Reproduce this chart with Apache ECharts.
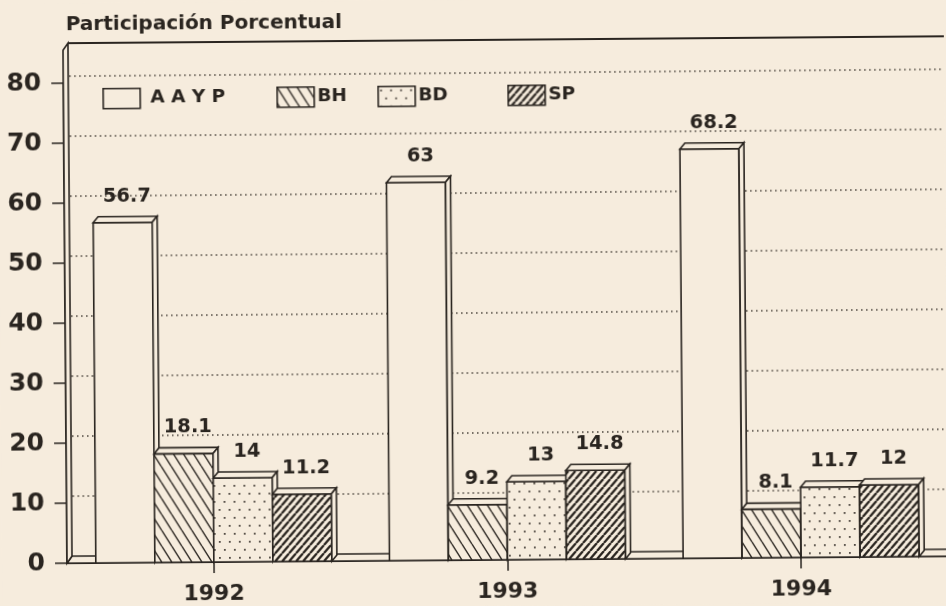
<!DOCTYPE html>
<html><head><meta charset="utf-8">
<script src="https://cdn.jsdelivr.net/npm/echarts/dist/echarts.min.js"></script>
<style>
html,body{margin:0;padding:0;background:#f6ecdd;overflow:hidden}
#c{width:946px;height:606px;transform:rotate(-0.45deg);transform-origin:473px 303px;}
</style></head><body><div id="c"></div>
<script>
// ---- data ----
const years = ['1992', '1993', '1994'];
const seriesNames = ['A A Y P', 'BH', 'BD', 'SP'];
const aaypValues = [56.7, 63, 68.2];
const bhValues = [18.1, 9.2, 8.1];
const bdValues = [14, 13, 11.7];
const spValues = [11.2, 14.8, 12];
const gridValues = [10, 20, 30, 40, 50, 60, 70, 80];
const axisMin = 0, axisMax = 80, axisInterval = 10;
const titleText = 'Participación Porcentual';

// ---- style ----
const INK = '#2a2520';
const PAPER = '#f6ecdd';
const FONT = '"DejaVu Sans", sans-serif';
const WX = 5, WY = 7;      // wall / floor depth
const DX = 5, DY = 6;      // bar depth
const BAR_FRAC = 0.201;
const WALL_TOP = 85.5;

function makeTile(w, h, draw) {
  const c = document.createElement('canvas');
  c.width = w; c.height = h;
  const g = c.getContext('2d');
  g.fillStyle = PAPER; g.fillRect(0, 0, w, h);
  draw(g, w, h);
  return { image: c, repeat: 'repeat' };
}
const fillPlain = PAPER;
const fillBH = makeTile(10, 16, (g, w, h) => {
  g.strokeStyle = INK; g.lineWidth = 1.4; g.beginPath();
  for (let k = -1; k <= 1; k++) { g.moveTo(k * w, 0); g.lineTo(k * w + w, h); }
  g.stroke();
});
const fillBD = makeTile(10, 16, (g) => {
  g.fillStyle = '#4e4740';
  g.fillRect(2, 3, 1.8, 1.8);
  g.fillRect(7, 11, 1.8, 1.8);
});
const fillSP = makeTile(7, 8, (g, w, h) => {
  g.strokeStyle = INK; g.lineWidth = 2.3; g.beginPath();
  for (let k = -1; k <= 1; k++) { g.moveTo(k * w, h); g.lineTo(k * w + w, 0); }
  g.stroke();
});
const fills = [fillPlain, fillBH, fillBD, fillSP];
const valueLists = [aaypValues, bhValues, bdValues, spValues];

function barSeries(idx) {
  return {
    type: 'custom', name: seriesNames[idx], z: 3,
    data: valueLists[idx].map((v, i) => [i, v]),
    encode: { x: 0, y: 1 },
    renderItem: (params, api) => {
      const cat = api.value(0), v = api.value(1);
      const top = api.coord([cat, v]);
      const base = api.coord([cat, 0]);
      const band = api.size([1, 0])[0];
      const bw = band * BAR_FRAC;
      const x0 = top[0] - 2 * bw + idx * bw, x1 = x0 + bw;
      const yT = top[1], yB = base[1];
      const st = { stroke: INK, lineWidth: 1.6 };
      return {
        type: 'group', children: [
          { type: 'rect', z2: idx * 10 + 1, shape: { x: x0, y: yT, width: bw, height: yB - yT }, style: Object.assign({ fill: fills[idx] }, st) },
          { type: 'polygon', z2: idx * 10 + 2, shape: { points: [[x0, yT], [x0 + DX, yT - DY], [x1 + DX, yT - DY], [x1, yT]] }, style: Object.assign({ fill: PAPER }, st) },
          { type: 'polygon', z2: idx * 10 + 2, shape: { points: [[x1, yT], [x1 + DX, yT - DY], [x1 + DX, yB - DY], [x1, yB]] }, style: Object.assign({ fill: PAPER }, st) },
          { type: 'text', z2: 200, x: (x0 + x1) / 2 + DX / 2 + 2, y: yT - 26,
            style: { text: String(v), fill: INK, font: 'bold 19.5px ' + FONT, align: 'center', verticalAlign: 'middle' } }
        ]
      };
    }
  };
}

const frameSeries = {
  type: 'custom', z: 1, silent: true,
  data: [[0, 0]], encode: { x: 0, y: 1 },
  renderItem: (params, api) => {
    const cs = params.coordSys;
    const L = cs.x, R = cs.x + cs.width + 10;
    const y0 = api.coord([0, axisMin])[1];
    const yM = api.coord([0, axisMax])[1];
    const topFront = y0 - (y0 - yM) * (WALL_TOP / axisMax);
    const st = { stroke: INK, lineWidth: 1.6 };
    return {
      type: 'group', children: [
        { type: 'line', shape: { x1: L + WX, y1: topFront - WY, x2: R, y2: topFront - WY }, style: { stroke: INK, lineWidth: 2 } },
        { type: 'polygon', shape: { points: [[L, y0], [L + WX, y0 - WY], [R, y0 - WY], [R, y0]] }, style: Object.assign({ fill: PAPER }, st) },
        { type: 'polygon', shape: { points: [[L, topFront], [L + WX, topFront - WY], [L + WX, y0 - WY], [L, y0]] }, style: Object.assign({ fill: PAPER }, st) }
      ]
    };
  }
};

const gridSeries = {
  type: 'custom', z: 2, silent: true,
  data: gridValues.map(v => [0, v]), encode: { x: 0, y: 1 },
  renderItem: (params, api) => {
    const cs = params.coordSys;
    const y = api.coord([0, api.value(1)])[1] - WY;
    return { type: 'line', shape: { x1: cs.x + WX + 1, y1: y, x2: cs.x + cs.width + 10, y2: y },
      style: { stroke: '#4a433b', lineWidth: 1.5, lineDash: [1.5, 3.5] } };
  }
};

// legend (graphic)
const legendBoxX = [104, 278, 379, 509];
const legendTextX = [152, 319, 420, 550];
const legendY = 85, legendBoxW = 37, legendBoxH = 20;
const legendGraphics = [];
seriesNames.forEach((n, i) => {
  legendGraphics.push({ type: 'rect', left: legendBoxX[i], top: legendY, shape: { x: 0, y: 0, width: legendBoxW, height: legendBoxH },
    style: { fill: fills[i], stroke: INK, lineWidth: 1.6 } });
  legendGraphics.push({ type: 'text', left: legendTextX[i], top: legendY + 1,
    style: { text: n, fill: INK, font: 'bold 18.5px ' + FONT } });
});

const chart = echarts.init(document.getElementById('c'));
chart.setOption({
  backgroundColor: PAPER,
  animation: false,
  title: { text: titleText, left: 63, top: 7, textStyle: { fontFamily: FONT, fontWeight: 'bold', fontSize: 20, color: INK } },
  grid: { left: 65, right: 0, top: 80, bottom: 46, containLabel: false, outerBoundsMode: 'none' },
  xAxis: {
    type: 'category', data: years, boundaryGap: true,
    axisLine: { show: true, lineStyle: { color: INK, width: 1.8 } },
    axisTick: { show: true, alignWithLabel: true, length: 11, lineStyle: { color: INK, width: 1.5 } },
    axisLabel: { fontFamily: FONT, fontWeight: 'bold', fontSize: 22, color: INK, margin: 21 },
    splitLine: { show: false }
  },
  yAxis: {
    type: 'value', min: axisMin, max: axisMax, interval: axisInterval,
    axisLine: { show: true, lineStyle: { color: INK, width: 1.6 } },
    axisTick: { show: true, length: 12, lineStyle: { color: INK, width: 1.5 } },
    axisLabel: { fontFamily: FONT, fontWeight: 'bold', fontSize: 25, color: INK, margin: 22 },
    splitLine: { show: false }
  },
  graphic: legendGraphics,
  series: [frameSeries, gridSeries, barSeries(0), barSeries(1), barSeries(2), barSeries(3)]
});
</script></body></html>
